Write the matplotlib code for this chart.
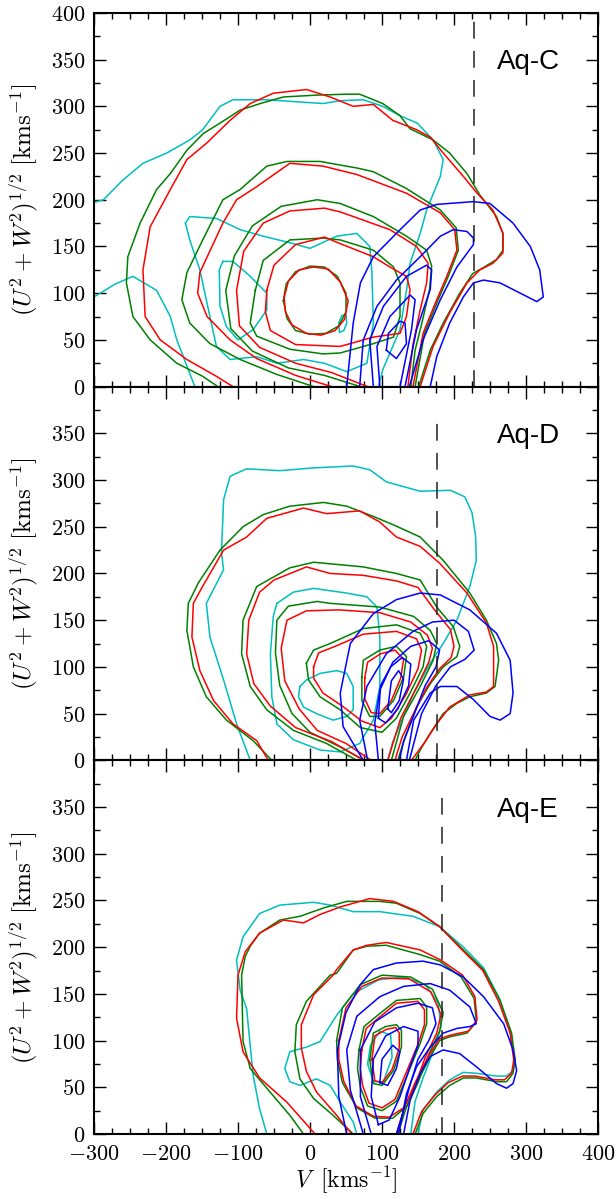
import numpy as np
import matplotlib.pyplot as plt
from matplotlib.ticker import MultipleLocator, FuncFormatter

plt.rcParams['mathtext.fontset'] = 'cm'
plt.rcParams['font.family'] = ['DejaVu Sans']

# ---------------- Aq-C : contours as (V, sqrt(U^2+W^2)) points -----------------
aqc_cyan = [
    [(-300,197),(-287,200),(-260,221),(-232,239),(-199,250),(-167,264),(-149,275),(-125,300),
     (-107,307),(-60,307),(18,303),(42,306),(74,307),(101,300),(125,290),(149,282),(171,264),
     (185,243),(181,225),(172,208),(162,189),(153,164),(139,132),(134,103),(125,61),(101,18),(95,0)],
    [(-300,96),(-270,110),(-246,118),(-213,103),(-194,75),(-185,50),(-171,22),(-160,0)],
    [(-173,175),(-167,182),(-130,180),(-97,168),(-65,161),(-28,154),(0,148),(37,161),(65,164),
     (83,150),(86,122),(88,68),(79,25),(51,16),(20,25),(-9,29),(-46,25),(-74,32),(-111,29),
     (-130,43),(-139,75),(-153,125),(-167,157),(-173,175)],
    [(-121,134),(-126,125),(-125,86),(-116,64),(-100,50),(-79,61),(-60,82),(-60,100),(-83,118),
     (-107,134),(-121,134)],
    [(40,68),(44,76),(50,77),(51,68),(47,60),(41,58),(40,68)],
]
aqc_green = [
    [(-128,0),(-149,11),(-185,25),(-222,50),(-246,75),(-255,111),(-253,139),(-236,175),(-213,211),
     (-194,228),(-171,253),(-148,271),(-125,282),(-97,296),(-69,303),(-37,310),(9,312),(51,313),
     (69,313),(101,303),(125,290),(139,276),(171,264),(194,250),(218,228),(236,205),(259,182),
     (268,164),(268,146),(259,136),(240,127),(226,121),(208,100),(185,68),(167,39),(151,0)],
    [(5,0),(-46,13),(-97,29),(-139,46),(-167,68),(-178,93),(-171,122),(-149,157),(-121,200),
     (-97,211),(-60,236),(-32,241),(14,241),(65,234),(88,230),(134,212),(181,189),(203,170),
     (206,146),(192,118),(178,93),(159,57),(146,0)],
    [(70,0),(20,12),(-30,20),(-80,38),(-110,62),(-117,103),(-105,140),(-80,172),(-40,193),(10,200),
     (42,196),(88,182),(134,161),(162,146),(169,129),(166,104),(156,70),(146,39),(140,0)],
    [(-76,103),(-65,135),(-28,157),(18,159),(42,157),(88,146),(116,128),(125,111),(125,75),
     (116,53),(88,46),(42,36),(18,35),(-28,40),(-74,54),(-83,68),(-76,103)],
    [(-37,92),(-33,110),(-20,123),(0,129),(20,128),(38,118),(50,100),(50,80),(40,65),(22,57),
     (0,56),(-20,60),(-32,73),(-37,92)],
]
aqc_red = [
    [(-107,0),(-130,11),(-171,29),(-208,50),(-229,75),(-232,125),(-222,171),(-194,211),(-171,243),
     (-143,261),(-111,285),(-83,303),(-51,314),(-5,318),(28,310),(60,300),(88,302),(115,285),
     (148,275),(167,267),(185,250),(213,225),(231,208),(254,189),(268,164),(268,143),(254,132),
     (236,125),(218,111),(194,79),(171,43),(153,0)],
    [(30,0),(-20,12),(-74,30),(-111,50),(-143,75),(-156,100),(-153,122),(-121,175),(-102,200),
     (-74,214),(-28,239),(18,236),(65,227),(134,207),(181,186),(201,168),(204,146),(190,118),
     (176,93),(157,57),(143,0)],
    [(80,0),(30,15),(-20,25),(-70,42),(-98,65),(-102,103),(-92,145),(-65,175),(-28,188),(20,191),
     (42,187),(111,168),(148,150),(164,132),(162,111),(153,82),(143,45),(136,0)],
    [(-60,103),(-50,130),(-20,152),(20,160),(42,153),(88,139),(111,128),(134,118),(139,104),
     (134,75),(125,57),(88,53),(42,43),(-20,45),(-55,60),(-62,80),(-60,103)],
    [(-36,95),(-30,113),(-15,125),(5,128),(25,126),(42,112),(53,92),(48,72),(35,60),(15,55),
     (-5,57),(-25,66),(-34,80),(-36,95)],
]
aqc_blue = [
    [(51,0),(60,68),(70,111),(88,139),(120,164),(153,189),(176,195),(227,198),(250,196),(282,175),
     (306,150),(319,125),(324,96),(315,91),(292,100),(264,111),(241,114),(227,111),(213,96),
     (194,68),(176,32),(167,0)],
    [(69,0),(74,50),(93,86),(120,114),(153,139),(181,161),(199,168),(218,166),(227,159),(227,152),
     (204,128),(181,93),(157,50),(138,0)],
    [(88,0),(83,50),(102,86),(134,118),(162,130),(169,125),(167,104),(148,61),(132,0)],
    [(97,0),(93,43),(111,75),(139,98),(146,93),(141,61),(125,0)],
    [(106,39),(109,57),(125,70),(132,68),(134,46),(120,30),(106,39)],
]

# ---------------- Aq-D -----------------
aqd_cyan = [
    [(-83,0),(-102,39),(-120,86),(-139,132),(-144,168),(-120,204),(-123,222),(-120,279),(-111,304),
     (-88,312),(-42,310),(5,313),(60,315),(83,311),(106,298),(153,288),(195,289),(215,282),
     (225,265),(230,240),(231,214),(222,186),(204,150),(185,125),(167,104),(144,72),(130,47),
     (115,20),(108,0)],
    [(-46,168),(-23,180),(5,184),(51,179),(79,175),(93,164),(97,132),(97,79),(88,43),(69,18),
     (42,9),(14,11),(-23,22),(-46,39),(-53,68),(-55,114),(-51,154),(-46,168)],
    [(-14,79),(-5,86),(14,93),(37,96),(51,93),(60,79),(60,54),(51,47),(32,43),(9,50),(-9,57),
     (-16,68),(-14,79)],
]
aqd_green = [
    [(-53,0),(-79,21),(-116,43),(-144,68),(-162,100),(-171,139),(-169,168),(-155,190),(-125,225),
     (-93,250),(-65,263),(-28,272),(19,276),(51,272),(88,261),(116,252),(153,239),(185,214),
     (222,179),(245,150),(259,125),(262,107),(257,79),(245,72),(222,68),(204,61),(185,50),
     (167,29),(153,11),(146,0)],
    [(65,0),(23,18),(-23,32),(-60,54),(-83,79),(-95,114),(-93,150),(-74,186),(-58,193),(-28,206),
     (5,212),(74,207),(120,200),(153,193),(176,164),(199,143),(208,122),(204,111),(185,100),
     (167,82),(148,57),(132,25),(122,0)],
    [(75,0),(40,15),(0,30),(-25,50),(-42,80),(-48,115),(-46,150),(-30,165),(10,170),(28,168),
     (97,164),(144,154),(167,139),(176,125),(171,107),(153,79),(130,47),(113,0)],
    [(-5,104),(5,118),(28,125),(74,141),(120,145),(153,136),(162,122),(157,100),(139,72),(120,45),
     (100,30),(70,35),(42,54),(14,68),(-2,86),(-5,104)],
    [(72,89),(74,107),(97,118),(120,122),(134,111),(130,89),(116,64),(97,47),(83,47),(72,64),(72,89)],
]
aqd_red = [
    [(-58,0),(-74,21),(-107,39),(-134,64),(-153,96),(-164,132),(-162,168),(-150,185),(-120,225),
     (-88,239),(-60,259),(-9,270),(23,264),(69,267),(97,255),(120,239),(153,229),(180,211),
     (218,179),(245,147),(255,122),(255,79),(245,73),(222,70),(194,57),(176,39),(160,20),(141,0)],
    [(75,0),(30,20),(-20,35),(-55,58),(-78,82),(-88,114),(-85,150),(-70,180),(-50,193),(-5,207),
     (28,200),(74,198),(120,192),(150,185),(172,162),(195,140),(200,122),(196,110),(180,98),
     (162,78),(145,52),(128,25),(118,0)],
    [(85,0),(50,18),(10,32),(-15,55),(-35,85),(-40,120),(-32,150),(-5,160),(40,161),(97,158),
     (140,148),(163,134),(170,120),(165,105),(148,78),(126,45),(108,0)],
    [(5,100),(12,115),(35,122),(74,135),(120,138),(148,130),(155,118),(150,98),(133,70),(113,45),
     (97,35),(72,42),(45,58),(18,72),(5,88),(5,100)],
    [(76,88),(80,105),(98,114),(118,118),(130,108),(126,88),(113,64),(97,50),(85,51),(76,66),(76,88)],
]
aqd_blue = [
    [(74,0),(46,36),(42,72),(56,125),(88,157),(120,172),(153,179),(181,177),(222,161),(259,136),
     (278,107),(282,72),(278,50),(264,43),(250,47),(227,65),(204,79),(181,79),(167,72),(144,43),
     (134,0)],
    [(80,0),(69,43),(79,79),(106,114),(143,138),(170,148),(200,150),(220,138),(228,118),(215,108),
     (195,100),(175,80),(155,50),(138,0)],
    [(95,0),(90,40),(97,75),(115,105),(140,122),(165,128),(180,118),(175,100),(160,80),(145,50),
     (130,20),(124,0)],
    [(95,45),(98,80),(112,100),(128,110),(140,103),(137,80),(122,55),(105,40),(95,45)],
    [(108,55),(113,85),(123,96),(130,87),(124,64),(113,51),(108,55)],
]

# ---------------- Aq-E -----------------
aqe_cyan = [
    [(-60,0),(-70,27),(-79,63),(-88,134),(-97,154),(-102,186),(-93,211),(-70,236),(-42,245),(5,248),
     (28,245),(60,238),(97,238),(143,233),(180,222),(213,200),(241,178),(263,145),(278,110),
     (284,80),(282,68),(273,62),(259,62),(231,65),(213,66),(194,58),(176,45),(157,26),(150,0)],
    [(65,0),(60,13),(42,34),(28,52),(9,59),(-14,52),(-28,56),(-35,70),(-28,88),(-5,93),(14,99),
     (37,127),(60,150),(95,165),(130,168),(160,160),(178,140),(182,115),(172,90),(157,60),
     (146,35),(140,0)],
    [(80,75),(84,95),(97,110),(112,106),(114,82),(102,56),(88,56),(80,75)],
]
aqe_green = [
    [(-9,0),(-28,20),(-60,49),(-83,70),(-93,99),(-95,170),(-90,190),(-83,201),(-70,215),(-42,229),
     (-14,233),(19,242),(51,249),(97,249),(120,247),(153,236),(180,222),(213,197),(241,176),
     (264,143),(280,108),(285,79),(282,65),(273,56),(259,56),(231,60),(213,60),(194,52),(176,40),
     (157,22),(146,0)],
    [(60,0),(32,20),(5,38),(-14,59),(-21,88),(-19,117),(-5,142),(28,170),(37,172),(60,197),
     (79,201),(106,202),(153,192),(180,185),(210,168),(228,145),(231,120),(218,108),(194,104),
     (180,100),(167,83),(148,54),(134,29),(122,0)],
    [(37,100),(45,135),(70,160),(100,170),(140,168),(170,155),(185,130),(180,110),(165,85),
     (150,55),(135,30),(115,17),(90,17),(65,28),(45,55),(38,80),(37,100)],
    [(68,90),(75,115),(97,129),(120,143),(153,145),(162,136),(162,118),(153,97),(134,61),(120,35),
     (100,25),(80,30),(70,50),(66,70),(68,90)],
    [(83,79),(88,108),(105,115),(120,117),(127,111),(127,93),(116,68),(100,52),(88,54),(83,79)],
]
aqe_red = [
    [(7,0),(-32,34),(-70,60),(-93,88),(-102,124),(-100,170),(-90,195),(-70,215),(-37,229),(-9,226),
     (14,235),(42,243),(83,252),(116,249),(150,238),(180,222),(210,198),(240,175),(262,142),
     (278,108),(283,79),(280,65),(270,58),(257,58),(230,62),(212,62),(192,55),(174,42),(155,24),
     (143,0)],
    [(58,0),(37,20),(9,45),(-5,67),(-12,92),(-12,117),(5,149),(32,170),(37,176),(60,197),(79,202),
     (106,205),(153,197),(182,186),(212,170),(229,147),(232,122),(220,110),(196,106),(180,102),
     (165,84),(146,55),(132,30),(120,0)],
    [(40,100),(50,135),(72,158),(100,167),(138,166),(168,152),(182,128),(176,108),(160,82),
     (146,52),(130,28),(110,18),(88,19),(64,30),(47,56),(40,80),(40,100)],
    [(72,90),(78,113),(98,126),(120,140),(150,142),(159,133),(159,117),(150,96),(131,61),(118,37),
     (100,28),(82,33),(73,52),(70,70),(72,90)],
    [(86,80),(90,105),(106,112),(119,114),(124,108),(124,92),(114,69),(100,55),(90,57),(86,80)],
]
aqe_blue = [
    [(51,0),(40,40),(38,90),(50,130),(70,160),(88,176),(120,183),(157,185),(181,181),(213,168),
     (241,147),(269,118),(282,90),(287,68),(282,54),(273,49),(259,54),(231,72),(208,86),(185,90),
     (167,83),(153,65),(139,36),(130,0)],
    [(74,0),(56,47),(51,90),(65,126),(97,147),(130,158),(167,161),(194,154),(222,136),(231,118),
     (222,115),(204,113),(185,108),(167,93),(148,72),(134,43),(123,0)],
    [(85,0),(70,40),(70,90),(90,120),(120,135),(150,140),(170,135),(175,118),(165,100),(150,80),
     (138,50),(128,20),(120,0)],
    [(95,10),(85,40),(88,80),(105,105),(130,115),(150,110),(150,95),(138,70),(125,40),(110,15),(95,10)],
    [(97,55),(100,80),(115,95),(125,88),(120,70),(108,52),(97,55)],
]

panels = [
    ('Aq-C', 228, 400, [aqc_cyan, aqc_green, aqc_red, aqc_blue]),
    ('Aq-D', 176, 372, [aqd_cyan, aqd_green, aqd_red, aqd_blue]),
    ('Aq-E', 183, 370, [aqe_cyan, aqe_green, aqe_red, aqe_blue]),
]
colors = ['c', 'g', 'r', 'b']

fig = plt.figure(figsize=(6.16, 11.99), dpi=100)
left, width, height = 94/616, 504/616, 373.7/1199
bottom0 = 1 - 1134/1199

ylab = r'$(U^2+W^2)^{1/2}\ [\mathrm{kms^{-1}}]$'

for i, (name, vdash, dtop, groups) in enumerate(panels):
    ax = fig.add_axes([left, bottom0 + (2 - i)*height, width, height])
    for col, curves in zip(colors, groups):
        for pts in curves:
            a = np.array(pts, dtype=float)
            ax.plot(a[:, 0], a[:, 1], color=col, lw=1.1, solid_joinstyle='round')
    ax.plot([vdash, vdash], [0, dtop], color='#222222', lw=1.1, ls=(0, (11, 8)))
    ax.text(303, 347, name, fontsize=20, family='Liberation Sans', ha='center', va='center')

    ax.set_xlim(-300, 400)
    ax.set_ylim(0, 400)
    ax.xaxis.set_major_locator(MultipleLocator(100))
    ax.xaxis.set_minor_locator(MultipleLocator(25))
    ax.yaxis.set_major_locator(MultipleLocator(50))
    ax.yaxis.set_minor_locator(MultipleLocator(25))
    ax.tick_params(which='both', direction='in', top=True, right=True, width=1.0)
    ax.tick_params(which='major', length=8.5, labelsize=16, pad=6)
    ax.tick_params(which='minor', length=4)
    ax.tick_params(axis='x', which='major', pad=7)
    for s in ax.spines.values():
        s.set_linewidth(1.5)

    if i == 0:
        ax.yaxis.set_major_formatter(FuncFormatter(lambda v, p: r'$%d$' % v))
    else:
        ax.yaxis.set_major_formatter(FuncFormatter(lambda v, p: '' if v > 375 else r'$%d$' % v))
    if i == 2:
        ax.xaxis.set_major_formatter(FuncFormatter(lambda v, p: r'$%d$' % v))
        ax.set_xlabel(r'$V\;\;[\mathrm{kms^{-1}}]$', fontsize=17, labelpad=1)
    else:
        ax.tick_params(labelbottom=False)
    ax.set_ylabel(ylab, fontsize=18, labelpad=8)

fig.savefig('out.png', dpi=100)
